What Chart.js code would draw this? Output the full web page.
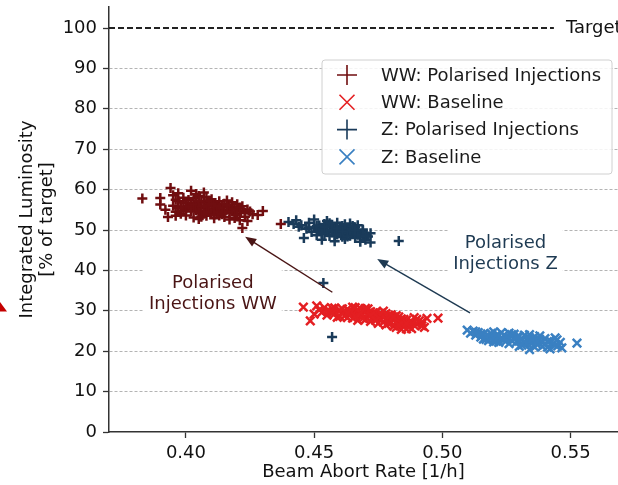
<!DOCTYPE html>
<html>
<head>
<meta charset="utf-8">
<script src="https://cdn.jsdelivr.net/npm/chart.js@4"></script>
<style>
  html, body { margin: 0; padding: 0; background: #fff; }
  #wrap { width: 618px; height: 485px; }
</style>
</head>
<body>
<div id="wrap"><canvas id="chart"></canvas></div>
<script>
// axis ticks
const xTicks = [0.40, 0.45, 0.50, 0.55]
const yTicks = [0, 10, 20, 30, 40, 50, 60, 70, 80, 90, 100]
const targetLevel = 100
const targetSpan = [0.37, 0.5435]

const seriesNames = ['WW: Polarised Injections', 'WW: Baseline', 'Z: Polarised Injections', 'Z: Baseline']

// [beam abort rate 1/h, integrated luminosity % of target]
const wwPolarised = [
  [0.383,57.8],[0.390,57.9],[0.390,56.3],[0.392,55.0],[0.393,53.2],[0.394,60.4],[0.395,58.6],[0.395,56.0],
  [0.396,54.5],[0.396,53.5],[0.397,59.1],[0.397,57.2],[0.398,55.8],[0.398,54.0],[0.399,56.8],[0.399,58.0],
  [0.400,55.2],[0.400,53.6],[0.401,57.4],[0.402,59.7],[0.402,56.1],[0.402,54.6],[0.403,55.6],[0.403,57.9],
  [0.403,53.1],[0.404,56.6],[0.404,54.9],[0.405,55.9],[0.405,58.4],[0.405,52.7],[0.406,57.0],[0.406,54.2],
  [0.407,55.5],[0.407,56.8],[0.407,59.3],[0.408,54.7],[0.408,53.5],[0.409,56.3],[0.409,55.1],[0.410,57.6],
  [0.410,54.0],[0.410,55.9],[0.411,52.9],[0.411,56.7],[0.412,55.3],[0.412,54.4],[0.413,57.1],[0.413,53.6],
  [0.414,55.8],[0.414,54.9],[0.415,56.5],[0.415,53.2],[0.416,55.0],[0.416,57.3],[0.417,54.3],[0.417,52.6],
  [0.418,55.6],[0.418,56.9],[0.419,54.1],[0.419,53.0],[0.420,55.4],[0.420,56.4],[0.421,54.7],[0.421,52.4],
  [0.422,55.9],[0.422,50.5],[0.423,54.2],[0.423,53.3],[0.424,52.2],[0.424,55.1],[0.425,54.6],[0.426,53.9],
  [0.428,53.7],[0.430,54.7],[0.404,55.3],[0.406,55.9],[0.408,56.0],[0.409,54.5],[0.411,55.0],[0.405,54.4],
  [0.402,55.4],[0.400,56.6],[0.413,55.5],[0.415,54.5],[0.417,55.8],[0.437,51.5],
  [0.401,55.8],[0.403,56.3],[0.405,57.2],[0.407,54.0],[0.409,57.3],[0.411,53.8],[0.412,56.0],[0.414,53.9],
  [0.416,56.1],[0.418,54.6],[0.420,53.7],[0.399,54.7],[0.397,55.4],[0.396,57.5],[0.406,53.3],[0.410,56.5],
  [0.408,58.1],[0.404,58.9],[0.419,55.2],[0.421,55.6]
]
const wwBaseline = [
  [0.4458,30.9],[0.4485,27.5],[0.450,29.2],[0.451,31.2],[0.452,30.2],[0.453,29.6],[0.454,30.8],[0.455,28.9],
  [0.456,29.9],[0.457,30.6],[0.458,29.3],[0.459,28.4],[0.460,30.1],[0.461,29.5],[0.462,28.8],[0.463,30.4],
  [0.464,29.0],[0.465,28.2],[0.466,29.7],[0.467,30.3],[0.468,28.6],[0.469,29.2],[0.470,27.8],[0.470,29.9],
  [0.471,28.9],[0.472,27.4],[0.473,29.5],[0.474,28.3],[0.475,26.9],[0.475,29.0],[0.476,27.8],[0.477,28.7],
  [0.478,26.5],[0.478,29.3],[0.479,27.6],[0.480,28.4],[0.481,26.2],[0.481,27.9],[0.482,28.8],[0.483,27.1],
  [0.484,25.4],[0.484,28.0],[0.485,26.6],[0.486,27.7],[0.487,26.0],[0.488,27.3],[0.489,28.3],[0.490,26.7],
  [0.491,27.5],[0.492,26.3],[0.494,28.1],[0.4983,28.2],[0.465,30.9],[0.468,30.6],[0.472,29.8],[0.476,28.9],
  [0.480,27.0],[0.483,28.5],[0.486,25.5],[0.460,28.6],[0.463,28.3],[0.467,27.6],[0.471,30.5],[0.474,29.6],
  [0.477,27.2],[0.479,28.9],[0.482,25.9],[0.455,30.0],[0.458,30.7],[0.462,29.8],
  [0.457,29.4],[0.461,30.5],[0.464,29.6],[0.466,28.7],[0.469,28.1],[0.470,30.6],[0.473,28.4],[0.476,29.4],
  [0.478,27.9],[0.480,29.0],[0.482,27.3],[0.484,26.7],[0.485,27.9],[0.487,27.0],[0.489,26.4],[0.490,27.9],
  [0.488,25.6],[0.486,26.9],[0.483,26.4],[0.479,26.9],[0.475,28.3],[0.472,28.8],[0.468,29.5],[0.466,30.8],
  [0.463,29.4],[0.474,27.6],[0.477,29.9],[0.481,28.5],[0.492,27.2],[0.493,25.9]
]
const zPolarised = [
  [0.440,52.0],[0.442,51.5],[0.443,52.4],[0.444,50.8],[0.445,51.2],[0.446,48.0],[0.447,50.3],[0.448,51.8],
  [0.449,49.5],[0.450,52.6],[0.450,50.6],[0.451,48.7],[0.452,51.1],[0.452,49.8],[0.453,50.4],[0.453,47.6],
  [0.454,51.5],[0.454,49.0],[0.455,50.0],[0.455,52.2],[0.456,48.5],[0.456,50.9],[0.457,49.4],[0.457,51.3],
  [0.458,47.2],[0.458,50.2],[0.459,48.9],[0.459,51.8],[0.460,49.7],[0.460,50.8],[0.461,48.3],[0.461,51.0],
  [0.462,49.9],[0.462,47.8],[0.463,50.5],[0.463,49.1],[0.464,51.6],[0.464,48.6],[0.465,50.1],[0.465,49.5],
  [0.466,48.0],[0.466,50.7],[0.467,49.3],[0.467,51.2],[0.468,48.5],[0.468,47.1],[0.469,49.8],[0.469,48.2],
  [0.470,47.6],[0.470,49.0],[0.471,48.4],[0.472,46.9],[0.472,49.2],[0.458,50.6],[0.460,49.2],[0.455,49.6],
  [0.457,50.0],[0.462,50.2],[0.464,49.8],[0.452,50.2],[0.483,47.3],[0.4536,36.9],[0.457,23.5],
  [0.451,51.0],[0.453,49.2],[0.456,51.7],[0.459,50.4],[0.461,49.6],[0.463,48.4],[0.465,51.0],[0.467,48.8],
  [0.469,50.1],[0.454,50.7],[0.458,48.7],[0.462,51.4],[0.466,49.9],[0.448,50.6],[0.470,48.6]
]
const zBaseline = [
  [0.5097,25.2],[0.511,24.5],[0.512,25.0],[0.513,24.0],[0.514,24.6],[0.515,23.5],[0.516,24.2],[0.517,22.9],
  [0.518,23.8],[0.519,24.4],[0.520,23.1],[0.521,22.5],[0.522,23.9],[0.523,24.6],[0.524,22.8],[0.525,23.4],
  [0.526,21.9],[0.527,24.1],[0.528,23.0],[0.529,22.3],[0.530,23.7],[0.531,21.5],[0.532,24.0],[0.533,22.7],
  [0.534,20.4],[0.534,23.3],[0.535,22.0],[0.536,23.6],[0.537,21.6],[0.538,22.9],[0.539,21.2],[0.540,23.1],
  [0.541,22.4],[0.542,20.6],[0.543,21.8],[0.544,23.3],[0.5447,22.8],[0.545,21.3],[0.5466,20.8],[0.5525,22.0],
  [0.518,22.6],[0.522,22.2],[0.526,23.2],[0.530,22.5],[0.524,24.0],[0.528,24.2],[0.532,22.0],[0.536,21.0],
  [0.520,24.8],[0.516,23.0],[0.538,23.8],[0.541,21.0],
  [0.513,24.8],[0.515,24.3],[0.517,23.7],[0.519,23.4],[0.521,23.9],[0.523,23.3],[0.525,22.6],[0.527,22.7],
  [0.529,23.5],[0.531,22.9],[0.533,21.9],[0.535,23.0],[0.537,22.5],[0.539,22.2],[0.540,21.7],[0.542,22.6],
  [0.544,21.5],[0.546,22.2],[0.520,22.3],[0.526,24.5],[0.530,21.2],[0.534,24.1]
]

// annotation texts and arrows (data coords)
const notes = [
  { lines: ['Polarised', 'Injections WW'], at: [0.4105, 34.3], color: '#4a1515',
    from: [0.4571, 34.6], to: [0.4231, 48.3] },
  { lines: ['Polarised', 'Injections Z'], at: [0.5246, 44.2], color: '#1e3a52',
    from: [0.5108, 29.5], to: [0.4746, 42.8] }
]

const colors = ['#700e10', '#e41f22', '#1a3b5a', '#3a80c2']
const styles = ['cross', 'crossRot', 'cross', 'crossRot']
const FONT = "'DejaVu Sans', sans-serif"

const toPts = arr => arr.map(([x, y]) => ({ x, y }))

const overlay = {
  id: 'overlay',
  beforeDatasetsDraw(chart) {
    const { ctx, scales: { x, y } } = chart
    ctx.save()
    ctx.font = `18px ${FONT}`
    ctx.textAlign = 'center'
    ctx.textBaseline = 'middle'
    notes.forEach(n => {
      const cx = x.getPixelForValue(n.at[0]), cy = y.getPixelForValue(n.at[1])
      const w = Math.max(...n.lines.map(l => ctx.measureText(l).width)) + 10
      ctx.fillStyle = '#fff'
      ctx.fillRect(cx - w / 2, cy - 25, w, 50)
      ctx.fillStyle = n.color
      n.lines.forEach((l, i) => ctx.fillText(l, cx, cy + (i - 0.5) * 21))
    })
    // target label
    ctx.fillStyle = '#111'
    ctx.textAlign = 'left'
    ctx.fillText('Target', x.getPixelForValue(targetSpan[1]) + 12, y.getPixelForValue(targetLevel))
    ctx.restore()
  },
  afterDatasetsDraw(chart) {
    const { ctx, chartArea: a, scales: { x, y } } = chart
    ctx.save()
    // arrows
    notes.forEach(n => {
      const x0 = x.getPixelForValue(n.from[0]), y0 = y.getPixelForValue(n.from[1])
      const x1 = x.getPixelForValue(n.to[0]), y1 = y.getPixelForValue(n.to[1])
      const ang = Math.atan2(y1 - y0, x1 - x0)
      ctx.strokeStyle = ctx.fillStyle = n.color
      ctx.lineWidth = 1.4
      ctx.beginPath()
      ctx.moveTo(x0, y0)
      ctx.lineTo(x1 - 8 * Math.cos(ang), y1 - 8 * Math.sin(ang))
      ctx.stroke()
      ctx.beginPath()
      ctx.moveTo(x1, y1)
      ctx.lineTo(x1 - 11 * Math.cos(ang) + 4.5 * Math.sin(ang), y1 - 11 * Math.sin(ang) - 4.5 * Math.cos(ang))
      ctx.lineTo(x1 - 11 * Math.cos(ang) - 4.5 * Math.sin(ang), y1 - 11 * Math.sin(ang) + 4.5 * Math.cos(ang))
      ctx.closePath()
      ctx.fill()
    })

    // legend box
    const bx = a.left + 213, by = a.top + 53, bw = 290, bh = 114
    ctx.beginPath()
    ctx.roundRect(bx, by, bw, bh, 3)
    ctx.fillStyle = 'rgba(255,255,255,0.85)'
    ctx.fill()
    ctx.strokeStyle = '#d0d0d0'
    ctx.lineWidth = 1
    ctx.stroke()
    ctx.font = `18px ${FONT}`
    ctx.textBaseline = 'middle'
    ctx.textAlign = 'left'
    seriesNames.forEach((name, i) => {
      const my = by + 15 + i * 27.3, mx = bx + 25
      ctx.strokeStyle = colors[i]
      ctx.lineWidth = 1.6
      ctx.beginPath()
      if (styles[i] === 'cross') {
        ctx.moveTo(mx - 10, my); ctx.lineTo(mx + 10, my)
        ctx.moveTo(mx, my - 10); ctx.lineTo(mx, my + 10)
      } else {
        ctx.moveTo(mx - 7.5, my - 7.5); ctx.lineTo(mx + 7.5, my + 7.5)
        ctx.moveTo(mx - 7.5, my + 7.5); ctx.lineTo(mx + 7.5, my - 7.5)
      }
      ctx.stroke()
      ctx.fillStyle = '#1a1a1a'
      ctx.fillText(name, bx + 59, my + 1)
    })

    // clipped marker fragment at the left edge
    ctx.fillStyle = '#c40000'
    ctx.beginPath()
    ctx.moveTo(0, 302); ctx.lineTo(7, 311.5); ctx.lineTo(0, 311.5)
    ctx.closePath()
    ctx.fill()
    ctx.restore()
  }
}

const series = [wwPolarised, wwBaseline, zPolarised, zBaseline]
const datasets = series.map((s, i) => ({
  label: seriesNames[i],
  data: toPts(s),
  pointStyle: styles[i],
  pointRadius: styles[i] === 'cross' ? 5 : 6,
  borderColor: colors[i],
  backgroundColor: colors[i],
  pointBorderWidth: 2.5,
  showLine: false
}))
datasets.push({
  label: 'Target',
  data: targetSpan.map(v => ({ x: v, y: targetLevel })),
  showLine: true,
  pointRadius: 0,
  borderColor: '#222',
  borderWidth: 1.8,
  borderDash: [6, 3]
})

new Chart(document.getElementById('chart'), {
  type: 'scatter',
  data: { datasets },
  options: {
    responsive: true,
    maintainAspectRatio: false,
    animation: false,
    layout: { autoPadding: false, padding: { top: 7, right: 0, left: 0, bottom: 0 } },
    plugins: { legend: { display: false }, tooltip: { enabled: false } },
    scales: {
      x: {
        min: 0.370, max: 0.5685,
        afterBuildTicks: s => { s.ticks = xTicks.map(v => ({ value: v })) },
        afterFit: s => { s.height = 53; s.paddingLeft = 0; s.paddingRight = 0 },
        ticks: { color: '#111', font: { family: FONT, size: 18 }, padding: 5, callback: v => v.toFixed(2), maxRotation: 0 },
        grid: { drawOnChartArea: false, tickLength: 6, tickColor: '#333', tickWidth: 1.3 },
        border: { color: '#333', width: 1.5 },
        title: { display: true, text: 'Beam Abort Rate [1/h]', color: '#111', font: { family: FONT, size: 18 }, padding: { top: 0, bottom: 2 } }
      },
      y: {
        min: 0, max: 105.2,
        afterBuildTicks: s => { s.ticks = yTicks.map(v => ({ value: v })) },
        afterFit: s => { s.width = 109; s.paddingTop = 0; s.paddingBottom = 0 },
        ticks: { color: '#111', font: { family: FONT, size: 18 }, padding: 6 },
        grid: {
          tickLength: 6, tickColor: '#333', tickWidth: 1.3, tickBorderDash: [],
          color: c => (c.tick && (c.tick.value === 0 || c.tick.value === 100)) ? 'rgba(0,0,0,0)' : '#b4b4b4',
          lineWidth: 1
        },
        border: { color: '#333', width: 1.5, dash: [3, 2] },
        title: {
          display: true, text: ['Integrated Luminosity', '[% of target]'], color: '#111',
          font: { family: FONT, size: 18, lineHeight: '20px' }, padding: { top: 17, bottom: 0 }
        }
      }
    }
  },
  plugins: [overlay]
})
</script>
</body>
</html>
